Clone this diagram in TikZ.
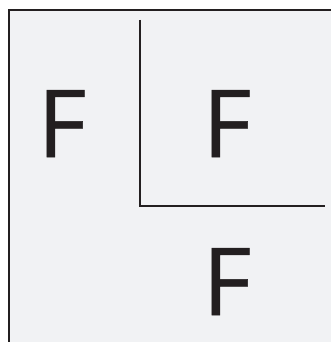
\documentclass[tikz,border=0pt]{standalone}
\usepackage{fontspec}
\newfontfamily\letterfont[FakeBold=0.6]{Open Sans}
\definecolor{panelgray}{HTML}{F1F2F4}
\definecolor{inkdark}{HTML}{231F20}
\begin{document}
\begin{tikzpicture}[x=1pt,y=-1pt,
  frameline/.style={draw=inkdark,line width=2.2pt},
  letter/.style={inner sep=0pt,anchor=base,text=inkdark,font=\letterfont\fontsize{93.8}{94}\selectfont}]
\useasboundingbox (0,0) rectangle (331,342);
\fill[white] (0,0) rectangle (331,342);
\fill[panelgray] (9,10) rectangle (331,342);
\draw[frameline] (331,10) -- (9,10) -- (9,342);
\coordinate (vtop) at (140,20);
\coordinate (corner) at (140,206);
\coordinate (hend) at (325,206);
\draw[frameline] (vtop) -- (corner) -- (hend);
\node[letter] (f1) at (62,157) {F};
\node[letter] (f2) at (227,157) {F};
\node[letter] (f3) at (227,315) {F};
\end{tikzpicture}
\end{document}
